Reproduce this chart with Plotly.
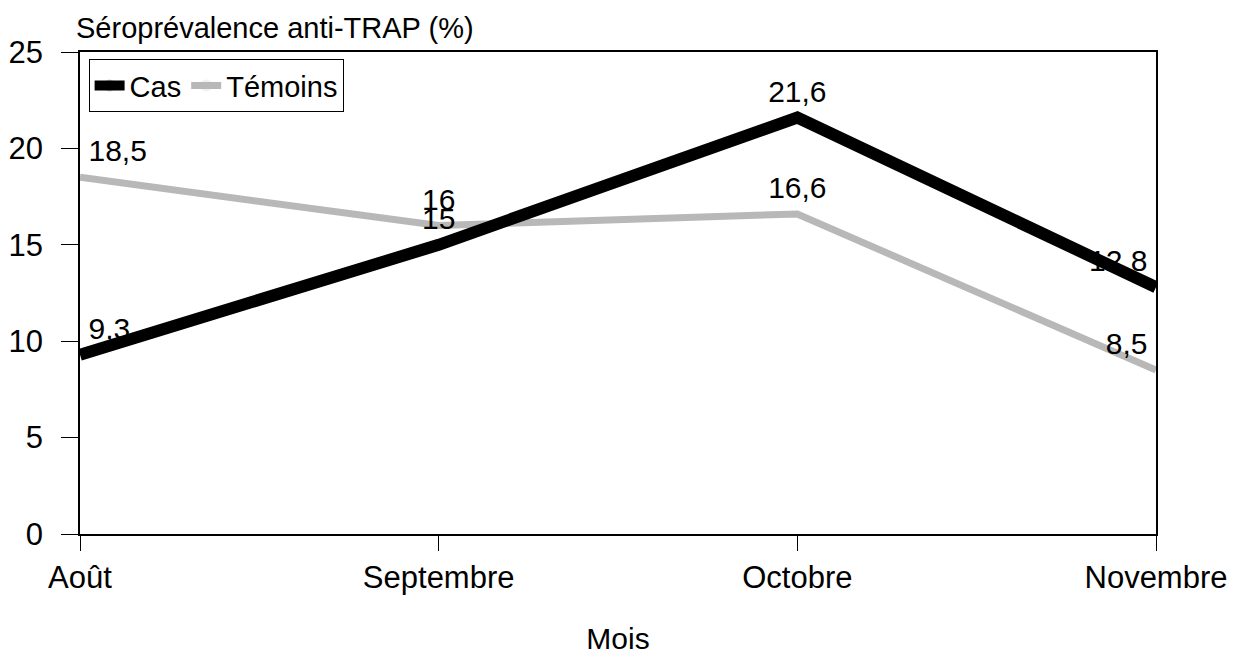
import plotly.graph_objects as go

mois = ["Août", "Septembre", "Octobre", "Novembre"]
cas = [9.3, 15, 21.6, 12.8]
temoins = [18.5, 16, 16.6, 8.5]
y_ticks = [0, 5, 10, 15, 20, 25]


def fr(v):
    s = ("%g" % v).replace(".", ",")
    return s


xpos = list(range(len(mois)))
FONT = "Liberation Sans, Arial, sans-serif"
positions = ["top right", "top center", "top center", "top left"]

fig = go.Figure()
fig.add_trace(go.Scatter(
    x=xpos, y=temoins, name="Témoins", mode="lines+markers+text",
    line=dict(color="#b8b8b8", width=7),
    marker=dict(size=12, opacity=0),
    text=[fr(v) for v in temoins], textposition=positions,
    textfont=dict(family=FONT, size=30, color="black"),
    cliponaxis=False,
))
fig.add_trace(go.Scatter(
    x=xpos, y=cas, name="Cas", mode="lines+markers+text",
    line=dict(color="black", width=12),
    marker=dict(size=12, opacity=0),
    text=[fr(v) for v in cas], textposition=positions,
    textfont=dict(family=FONT, size=30, color="black"),
    cliponaxis=False,
))

fig.update_layout(
    width=1230, height=647,
    margin=dict(l=72, r=82, t=44, b=121),
    paper_bgcolor="white", plot_bgcolor="white",
    font=dict(family=FONT, size=28, color="black"),
    showlegend=True,
    legend=dict(
        x=0.008, y=0.985, xanchor="left", yanchor="top",
        orientation="h", traceorder="reversed",
        bordercolor="black", borderwidth=1, bgcolor="white",
        font=dict(family=FONT, size=29, color="black"),
        itemwidth=30, tracegroupgap=0,
    ),
    annotations=[dict(
        text="Séroprévalence anti-TRAP (%)", xref="paper", yref="paper",
        x=0, y=1, xanchor="left", yanchor="bottom", yshift=6, xshift=-6,
        showarrow=False, font=dict(family=FONT, size=29, color="black"),
    )],
)

fig.update_xaxes(
    range=[0, 3], tickvals=xpos, ticktext=mois, automargin=False,
    showline=True, linecolor="black", linewidth=1.5, mirror=True,
    ticks="outside", ticklen=15, tickcolor="black",
    showgrid=False, zeroline=False,
    tickfont=dict(family=FONT, size=31, color="black"),
    title=dict(text="Mois", font=dict(family=FONT, size=30, color="black"), standoff=38),
)
fig.update_yaxes(
    range=[0, 25], tickvals=y_ticks, automargin=False,
    showline=True, linecolor="black", linewidth=1.5, mirror=True,
    ticks="outside", ticklen=17, tickcolor="black",
    showgrid=False, zeroline=False,
    tickfont=dict(family=FONT, size=31, color="black"),
    ticklabelstandoff=12,
)

fig.write_html("out.html")
